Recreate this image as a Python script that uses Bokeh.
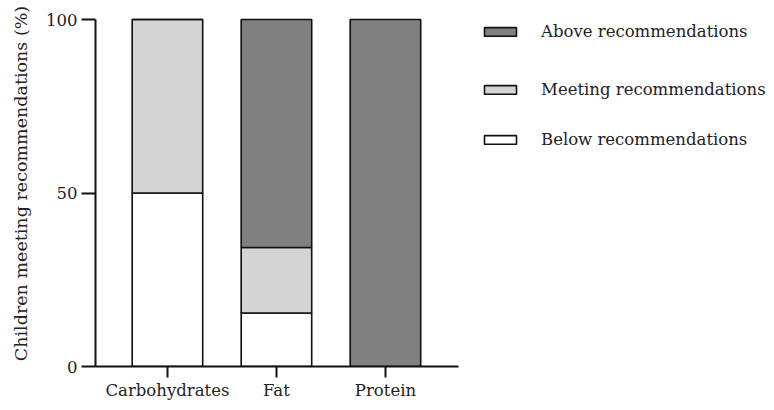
from bokeh.plotting import figure
from bokeh.models import (Range1d, FixedTicker, Legend, LegendItem, ColumnDataSource)
from bokeh.embed import file_html
from bokeh.resources import INLINE

categories = ["Carbohydrates", "Fat", "Protein"]
below = [50.0, 15.4, 0.0]
meeting = [50.0, 18.9, 0.0]
above = [0.0, 65.7, 100.0]
series_names = ["Below recommendations", "Meeting recommendations", "Above recommendations"]
series_keys = ["below", "meeting", "above"]
series_colors = ["#ffffff", "#d4d4d4", "#808080"]
y_ticks = [0, 50, 100]

FONT = "DejaVu Serif"
W, H = 766, 402
LEFT, TOP100, BOTTOM = 95, 19, 366
PX_PER_UNIT = 109.0
X0, X1 = -0.66, 2.67
Y_PX = (BOTTOM - TOP100) / 100.0

src = ColumnDataSource(dict(x=list(range(len(categories))), below=below,
                            meeting=meeting, above=above))

p = figure(width=W, height=H, output_backend="svg", toolbar_location=None,
           x_range=Range1d(X0, X0 + (W - LEFT) / PX_PER_UNIT),
           y_range=Range1d(0, BOTTOM / Y_PX),
           min_border_left=LEFT, min_border_right=0, min_border_top=0,
           min_border_bottom=H - BOTTOM)
p.outline_line_color = None
p.xgrid.visible = False
p.ygrid.visible = False

rs = p.vbar_stack(series_keys, x="x", width=0.647, source=src,
                  fill_color=series_colors, line_color="#111111", line_width=1.6)

for ax in (p.xaxis[0], p.yaxis[0]):
    ax.axis_line_color = "#111111"
    ax.axis_line_width = 2
    ax.major_tick_line_color = "#111111"
    ax.major_tick_line_width = 2
    ax.major_tick_in = 0
    ax.minor_tick_line_color = None
    ax.major_label_text_font = FONT
    ax.major_label_text_font_size = "16.5px"
    ax.major_label_text_color = "#222222"

p.xaxis.bounds = (X0, X1)
p.xaxis.ticker = FixedTicker(ticks=list(range(len(categories))))
p.xaxis.major_label_overrides = {i: c for i, c in enumerate(categories)}
p.xaxis.major_tick_out = 11
p.xaxis.major_label_standoff = 3

p.yaxis.bounds = (0, 100)
p.yaxis.ticker = FixedTicker(ticks=y_ticks)
p.yaxis.major_tick_out = 14
p.yaxis.major_label_standoff = 4
p.yaxis.axis_label = "Children meeting recommendations (%)"
p.yaxis.axis_label_text_font = FONT
p.yaxis.axis_label_text_font_size = "17.5px"
p.yaxis.axis_label_text_font_style = "normal"
p.yaxis.axis_label_text_color = "#222222"
p.yaxis.axis_label_standoff = 12

# legends (top to bottom: above, meeting, below)
legend_rows = [(2, 325), (1, 267), (0, 217)]
for idx, ybot in legend_rows:
    lg = Legend(items=[LegendItem(label=series_names[idx], renderers=[rs[idx]])],
                location=(385, ybot), orientation="vertical",
                glyph_width=40, glyph_height=11, label_standoff=21,
                label_height=20, padding=0, margin=0, spacing=0,
                border_line_color=None, background_fill_alpha=0,
                label_text_font=FONT, label_text_font_size="16.5px",
                label_text_color="#222222")
    p.add_layout(lg, "center")

open("out.html", "w").write(file_html(p, INLINE))
